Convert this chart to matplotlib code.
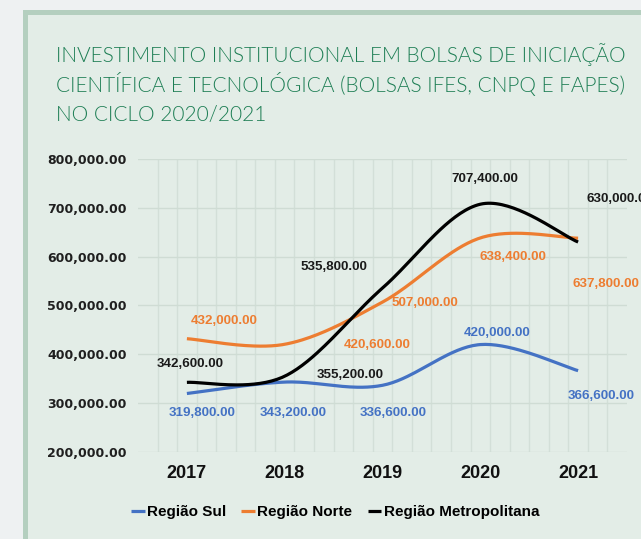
import numpy as np
import matplotlib
matplotlib.use("Agg")
import matplotlib.pyplot as plt
from matplotlib.patches import Rectangle

# dados do grafico
anos = ["2017", "2018", "2019", "2020", "2021"]
sul = [319800, 343200, 336600, 420000, 366600]
norte = [432000, 420600, 507000, 638400, 637800]
metro = [342600, 355200, 535800, 707400, 630000]
nomes = ["Região Sul", "Região Norte", "Região Metropolitana"]
cores = ["#4472c4", "#ed7d31", "#000000"]
titulo = ["INVESTIMENTO INSTITUCIONAL EM BOLSAS DE INICIAÇÃO",
          "CIENTÍFICA E TECNOLÓGICA (BOLSAS IFES, CNPQ E FAPES)",
          "NO CICLO 2020/2021"]

# deslocamento dos rotulos (pixels) como no excel
desl = [
    [(15, -20), (8, -31), (11, -28), (17, 12), (23, -25)],
    [(37, 18), (92, -1), (42, -1), (33, -19), (28, -46)],
    [(3, 18), (65, 1), (-49, 21), (5, 25), (42, 43)],
]

fonte = ["Liberation Sans", "DejaVu Sans"]


def suave(xs, ys, n=40):
    # curva suavizada tipo excel (bezier)
    p = np.column_stack([xs, ys]).astype(float)
    out = []
    for i in range(len(p) - 1):
        p0 = p[i - 1] if i > 0 else p[i]
        p1 = p[i]
        p2 = p[i + 1]
        p3 = p[i + 2] if i + 2 < len(p) else p[i + 1]
        c1 = p1 + (p2 - p0) / 6
        c2 = p2 - (p3 - p1) / 6
        t = np.linspace(0, 1, n)[:, None]
        seg = (1 - t) ** 3 * p1 + 3 * (1 - t) ** 2 * t * c1 + 3 * (1 - t) * t ** 2 * c2 + t ** 3 * p2
        out.append(seg if i == 0 else seg[1:])
    return np.vstack(out)


W, H = 641, 539
fig = plt.figure(figsize=(W / 100, H / 100), dpi=100, facecolor="#eef1f2")

# moldura
fig.patches.append(Rectangle((23 / W, -0.1), 1.2, 1 - 10 / H + 0.1, transform=fig.transFigure,
                             facecolor="#b4cfbf", edgecolor="none", zorder=-10))
fig.patches.append(Rectangle((28 / W, -0.1), 1.2, 1 - 15 / H + 0.1, transform=fig.transFigure,
                             facecolor="#e3ede7", edgecolor="none", zorder=-9))

for i, linha in enumerate(titulo):
    fig.text(56 / W, 1 - (62 + 29.5 * i) / H, linha, color="#1d7e54", fontsize=15,
             family="Lato", fontweight=300, va="baseline", ha="left")

ax = fig.add_axes([138 / W, 1 - 452 / H, (627 - 138) / W, (452 - 159) / H])
ax.set_facecolor("none")

x = np.arange(len(anos))
series = [sul, norte, metro]
for s, nome, cor, dd in zip(series, nomes, cores, desl):
    c = suave(x, s)
    ax.plot(c[:, 0], c[:, 1], color=cor, lw=2.3, label=nome, solid_capstyle="butt")
    for xi, v, (dx, dy) in zip(x, s, dd):
        ax.annotate(f"{v:,.2f}", (xi, v), xytext=(dx, dy), textcoords="offset pixels",
                    ha="center", va="center", color=cor if cor != "#000000" else "#1a1a1a",
                    fontsize=9.6, family=fonte, fontweight="bold")

ax.set_xlim(-0.5, 4.5)
ax.set_ylim(200000, 800000)
ax.set_yticks(np.arange(200000, 800001, 100000))
ax.set_yticklabels([f"{v:,.2f}" for v in np.arange(200000, 800001, 100000)])
ax.set_xticks(x)
ax.set_xticklabels(anos)
ax.set_xticks(np.arange(-0.3, 4.4, 0.2), minor=True)

ax.grid(axis="y", which="major", color="#cfdcd4", lw=1)
ax.grid(axis="x", which="minor", color="#d3dfd8", lw=1)
ax.set_axisbelow(True)
ax.tick_params(axis="both", which="both", length=0)
ax.tick_params(axis="y", pad=8, labelsize=9, labelcolor="#1f1f1f")
ax.tick_params(axis="x", pad=9, labelsize=13, labelcolor="#111111")
for lab in ax.get_yticklabels():
    lab.set_fontweight("bold")
    lab.set_family("DejaVu Sans")
for lab in ax.get_xticklabels():
    lab.set_fontweight("bold")
    lab.set_family(fonte)
for sp in ax.spines.values():
    sp.set_visible(False)

fig.legend(loc="center", bbox_to_anchor=(335 / W, 1 - 512 / H), ncol=3, frameon=False,
           handlelength=0.9, handletextpad=0.15, columnspacing=1.0,
           prop={"family": fonte, "weight": "bold", "size": 11})

fig.savefig("out.png", dpi=100, facecolor=fig.get_facecolor())
